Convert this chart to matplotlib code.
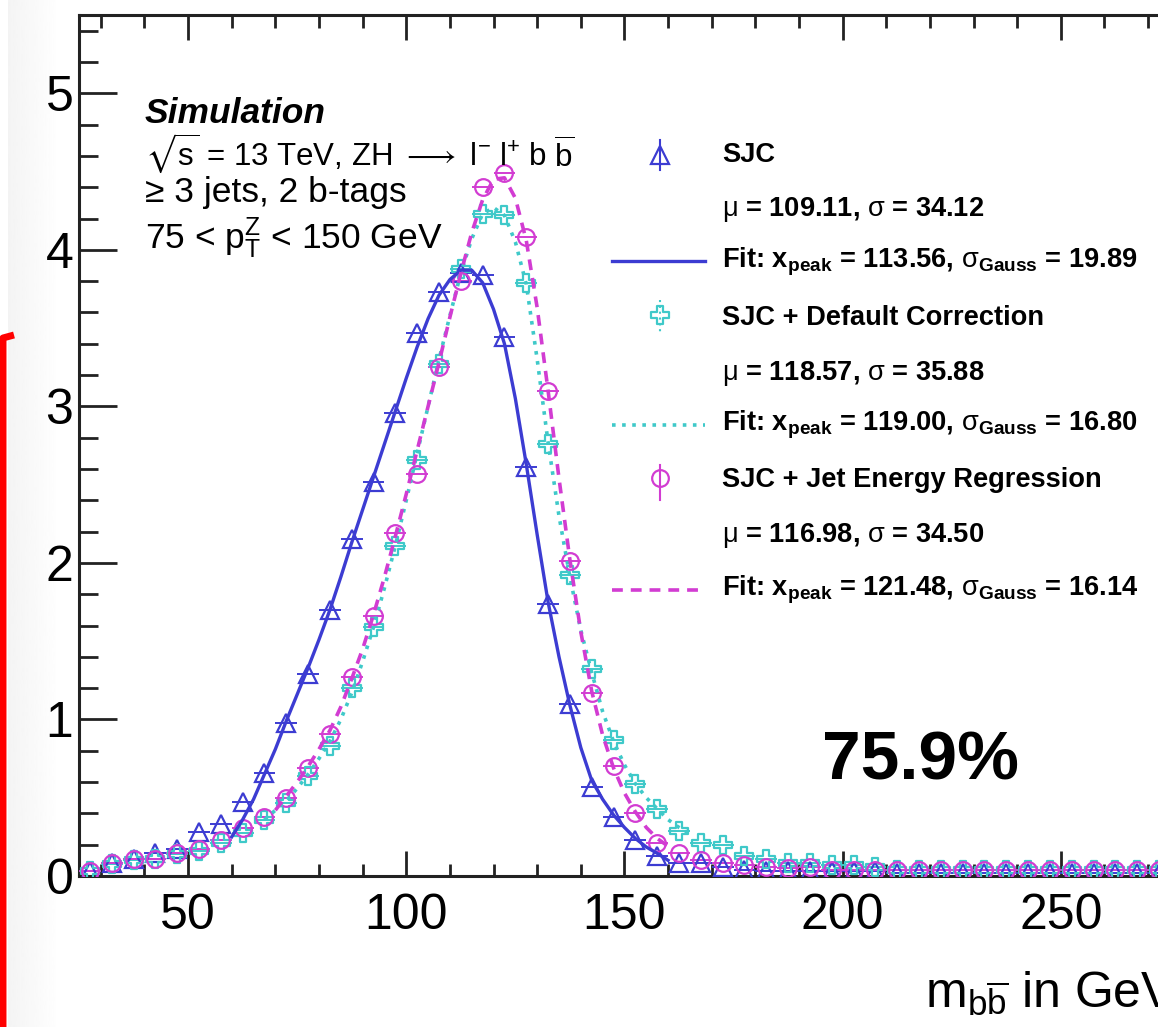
import matplotlib
matplotlib.use("Agg")
import matplotlib.pyplot as plt
from matplotlib.path import Path
from matplotlib.ticker import MultipleLocator, FixedLocator, FixedFormatter
import numpy as np

# ---------------- data ----------------
bin_centers = [27.5, 32.5, 37.5, 42.5, 47.5, 52.5, 57.5, 62.5, 67.5, 72.5,
               77.5, 82.5, 87.5, 92.5, 97.5, 102.5, 107.5, 112.5, 117.5, 122.5,
               127.5, 132.5, 137.5, 142.5, 147.5, 152.5, 157.5, 162.5, 167.5, 172.5,
               177.5, 182.5, 187.5, 192.5, 197.5, 202.5, 207.5, 212.5, 217.5, 222.5,
               227.5, 232.5, 237.5, 242.5, 247.5, 252.5, 257.5, 262.5, 267.5, 272.5,
               277.5, 282.5, 287.5, 292.5, 297.5]
bin_half_width = 2.5

sjc = [0.03, 0.085, 0.11, 0.145, 0.175, 0.28, 0.33, 0.47, 0.66, 0.98,
       1.29, 1.70, 2.15, 2.52, 2.96, 3.47, 3.73, 3.85, 3.84, 3.44,
       2.61, 1.74, 1.10, 0.57, 0.38, 0.23, 0.13, 0.08, 0.08, 0.06,
       0.04, 0.035, 0.03, 0.035, 0.03, 0.03, 0.03, 0.02, 0.02, 0.02,
       0.02, 0.02, 0.02, 0.02, 0.02, 0.02, 0.02, 0.02, 0.02, 0.02,
       0.02, 0.02, 0.02, 0.02, 0.02]
sjc_default = [0.03, 0.075, 0.10, 0.11, 0.14, 0.16, 0.21, 0.275, 0.36, 0.465,
               0.64, 0.83, 1.20, 1.59, 2.11, 2.66, 3.27, 3.88, 4.23, 4.22,
               3.79, 2.76, 1.92, 1.32, 0.87, 0.59, 0.43, 0.29, 0.21, 0.20,
               0.13, 0.11, 0.08, 0.08, 0.07, 0.07, 0.06, 0.04, 0.04, 0.04,
               0.04, 0.04, 0.04, 0.04, 0.04, 0.04, 0.04, 0.04, 0.04, 0.04,
               0.04, 0.04, 0.04, 0.04, 0.04]
sjc_regr = [0.03, 0.08, 0.11, 0.11, 0.145, 0.17, 0.23, 0.305, 0.38, 0.50,
            0.69, 0.91, 1.27, 1.66, 2.19, 2.57, 3.25, 3.80, 4.40, 4.49,
            4.08, 3.10, 2.01, 1.17, 0.70, 0.40, 0.21, 0.145, 0.10, 0.08,
            0.07, 0.06, 0.05, 0.06, 0.04, 0.04, 0.04, 0.04, 0.04, 0.04,
            0.04, 0.04, 0.04, 0.04, 0.04, 0.04, 0.04, 0.04, 0.04, 0.04,
            0.04, 0.04, 0.04, 0.04, 0.04]

fit_sjc_x = [60, 62.5, 65, 67.5, 70, 72.5, 75, 77.5, 80, 82.5, 85, 87.5, 90, 92.5,
             95, 97.5, 100, 102.5, 105, 107.5, 110, 112.5, 115, 117.5, 120, 122.5,
             125, 127.5, 130, 132.5, 135, 137.5, 140, 142.5, 145, 147.5, 150,
             152.5, 155, 157.5, 160]
fit_sjc_y = [0.25, 0.36, 0.49, 0.65, 0.81, 0.99, 1.16, 1.33, 1.51, 1.70, 1.91, 2.13,
             2.34, 2.55, 2.76, 2.97, 3.18, 3.38, 3.56, 3.71, 3.81, 3.87, 3.87, 3.79,
             3.62, 3.40, 3.05, 2.63, 2.18, 1.75, 1.40, 1.09, 0.82, 0.61, 0.49, 0.39,
             0.31, 0.24, 0.185, 0.145, 0.10]

fit_def_x = [67.5, 70, 72.5, 75, 77.5, 80, 82.5, 85, 87.5, 90, 92.5, 95, 97.5, 100,
             102.5, 105, 107.5, 110, 112.5, 115, 117.5, 120, 122.5, 125, 127.5,
             130, 132.5, 135, 137.5, 140, 142.5, 145, 147.5, 150, 152.5, 155,
             157.5, 160, 162.5, 165]
fit_def_y = [0.36, 0.42, 0.48, 0.56, 0.65, 0.75, 0.86, 1.00, 1.17, 1.37, 1.59, 1.84,
             2.11, 2.40, 2.70, 3.00, 3.30, 3.58, 3.85, 4.07, 4.23, 4.27, 4.22, 4.05,
             3.78, 3.30, 2.77, 2.30, 1.91, 1.57, 1.30, 1.05, 0.86, 0.71, 0.59, 0.50,
             0.43, 0.36, 0.31, 0.27]

fit_reg_x = [70, 72.5, 75, 77.5, 80, 82.5, 85, 87.5, 90, 92.5, 95, 97.5, 100, 102.5,
             105, 107.5, 110, 112.5, 115, 117.5, 120, 122.5, 125, 127.5, 130, 132.5,
             135, 137.5, 140, 142.5, 145, 147.5, 150, 152.5, 155, 157.5, 160]
fit_reg_y = [0.42, 0.51, 0.60, 0.70, 0.81, 0.93, 1.08, 1.26, 1.45, 1.67, 1.91, 2.17,
             2.44, 2.72, 3.00, 3.28, 3.57, 3.85, 4.11, 4.32, 4.45, 4.46, 4.33, 4.06,
             3.63, 3.10, 2.54, 2.02, 1.56, 1.18, 0.90, 0.69, 0.53, 0.41, 0.31, 0.24,
             0.19]

x_ticks = [50, 100, 150, 200, 250, 300]
x_tick_labels = ["50", "100", "150", "200", "250", ""]

legend_labels = ["SJC",
                 "$\\mathrm{\\mu}$ = 109.11, $\\mathrm{\\sigma}$ = 34.12",
                 "Fit: x$_{\\mathbf{peak}}$ = 113.56, $\\mathrm{\\sigma}_{\\mathbf{Gauss}}$ = 19.89",
                 "SJC + Default Correction",
                 "$\\mathrm{\\mu}$ = 118.57, $\\mathrm{\\sigma}$ = 35.88",
                 "Fit: x$_{\\mathbf{peak}}$ = 119.00, $\\mathrm{\\sigma}_{\\mathbf{Gauss}}$ = 16.80",
                 "SJC + Jet Energy Regression",
                 "$\\mathrm{\\mu}$ = 116.98, $\\mathrm{\\sigma}$ = 34.50",
                 "Fit: x$_{\\mathbf{peak}}$ = 121.48, $\\mathrm{\\sigma}_{\\mathbf{Gauss}}$ = 16.14"]

info_lines = ["Simulation",
              "$\\sqrt{\\mathrm{s}}$ = 13 TeV, ZH $\\longrightarrow$ l$^{-}$ l$^{+}$ b $\\overline{\\mathrm{b}}$",
              "\u2265 3 jets, 2 b-tags",
              "75 < p$_{\\mathrm{T}}^{\\mathrm{Z}}$ < 150 GeV"]

x_label = "m$_{\\mathrm{b}\\overline{\\mathrm{b}}}$ in GeV"

# ---------------- style ----------------
plt.rcParams['font.family'] = ['Liberation Sans', 'DejaVu Sans']
plt.rcParams['mathtext.fontset'] = 'custom'
plt.rcParams['mathtext.rm'] = 'Liberation Sans'
plt.rcParams['mathtext.it'] = 'Liberation Sans:italic'
plt.rcParams['mathtext.bf'] = 'Liberation Sans:bold'
plt.rcParams['mathtext.sf'] = 'Liberation Sans'
plt.rcParams['mathtext.fallback'] = 'stixsans'

BLUE = '#3c3cd2'
CYAN = '#3fc9c9'
MAGENTA = '#d23cd2'

W, H = 1158, 1027
fig = plt.figure(figsize=(W / 100, H / 100), dpi=100)
fig.patch.set_facecolor('white')

# faint screenshot shadow on the left
bg = fig.add_axes([0, 0, 1, 1], zorder=-5)
bg.set_xlim(0, W)
bg.set_ylim(H, 0)
bg.axis('off')
grad = np.linspace(0.955, 1.0, 64).reshape(1, -1)
bg.imshow(grad, extent=(8, 60, H, 0), cmap='gray', vmin=0, vmax=1, aspect='auto')

# axes: left spine px 79, bottom px 876, top px 15, right beyond crop
ax = fig.add_axes([79 / W, (H - 876) / H, 1200 / W, (876 - 15) / H])
ax.patch.set_alpha(0)
ax.set_xlim(25, 300)
ax.set_ylim(0, 5.5)

# open cross marker
a = 0.32
cross = Path([(-1, -a), (-a, -a), (-a, -1), (a, -1), (a, -a), (1, -a), (1, a),
              (a, a), (a, 1), (-a, 1), (-a, a), (-1, a), (-1, -a)], closed=True)

ms_kw = dict(linestyle='none', markerfacecolor='none', markeredgewidth=1.6,
             elinewidth=1.4, capsize=0)
ax.errorbar(bin_centers, sjc, xerr=bin_half_width, marker='^', ms=13,
            color=BLUE, mec=BLUE, zorder=3, **ms_kw)
ax.errorbar(bin_centers, sjc_default, xerr=bin_half_width, marker=cross, ms=13,
            color=CYAN, mec=CYAN, zorder=3, **ms_kw)
ax.errorbar(bin_centers, sjc_regr, xerr=bin_half_width, marker='o', ms=12,
            color=MAGENTA, mec=MAGENTA, zorder=3, **ms_kw)

ax.plot(fit_sjc_x, fit_sjc_y, color=BLUE, lw=2.4, ls='-', zorder=4)
ax.plot(fit_def_x, fit_def_y, color=CYAN, lw=2.6, ls=(0, (1, 1.8)), zorder=4)
ax.plot(fit_reg_x, fit_reg_y, color=MAGENTA, lw=2.6, ls=(0, (3, 2.2)), zorder=4)

# ticks (ROOT style, inward, on all sides)
ax.xaxis.set_major_locator(FixedLocator(x_ticks))
ax.xaxis.set_major_formatter(FixedFormatter(x_tick_labels))
ax.xaxis.set_minor_locator(MultipleLocator(10))
ax.yaxis.set_major_locator(MultipleLocator(1))
ax.yaxis.set_minor_locator(MultipleLocator(0.2))
ax.tick_params(axis='both', which='both', direction='in', top=True, right=True,
               width=2.0, colors='#222222', labelcolor='black')
ax.tick_params(axis='x', which='major', length=18, labelsize=36, pad=12)
ax.tick_params(axis='x', which='minor', length=9)
ax.tick_params(axis='y', which='major', length=27, labelsize=36, pad=4)
ax.tick_params(axis='y', which='minor', length=14)
for s in ax.spines.values():
    s.set_linewidth(2.2)
    s.set_color('#222222')

# overlay in pixel coordinates for texts and legend
ov = fig.add_axes([0, 0, 1, 1])
ov.set_xlim(0, W)
ov.set_ylim(H, 0)
ov.axis('off')
ov.patch.set_alpha(0)

# info text
ov.text(145, 123, info_lines[0], fontsize=25.5, fontweight='bold', style='italic',
        va='baseline', ha='left')
ov.text(145, 165, info_lines[1], fontsize=22.5, va='baseline', ha='left')
ov.text(145, 202, info_lines[2], fontsize=25.5, va='baseline', ha='left')
ov.text(145, 248, info_lines[3], fontsize=25.5, va='baseline', ha='left')

# legend
tx = 722
rows_y = [155, 210, 262, 318, 373, 425, 480, 535, 590]
for lab, yy in zip(legend_labels, rows_y):
    ov.text(tx, yy, lab, fontsize=19.6, fontweight='bold', va='center', ha='left')

mx = 660
ov.plot([mx, mx], [140, 170], color=BLUE, lw=1.5)
ov.plot([mx], [155], marker='^', ms=13, mfc='none', mec=BLUE, mew=1.6)
ov.plot([612, 705], [261, 261], color=BLUE, lw=2.4, ls='-')
ov.plot([mx, mx], [300, 335], color=CYAN, lw=1.5, ls=(0, (1, 1.8)))
ov.plot([mx], [315], marker=cross, ms=13, mfc='none', mec=CYAN, mew=1.6)
ov.plot([612, 705], [425, 425], color=CYAN, lw=2.6, ls=(0, (1, 1.8)))
ov.plot([mx, mx], [465, 500], color=MAGENTA, lw=1.5)
ov.plot([mx], [478], marker='o', ms=12, mfc='none', mec=MAGENTA, mew=1.6)
ov.plot([612, 705], [590, 590], color=MAGENTA, lw=2.6, ls=(0, (3, 2.2)))

# big percentage
ov.text(822, 780, "75.9%", fontsize=50, fontweight='bold', va='baseline', ha='left')

# x-axis label (right aligned at axis end, cropped as in the reference)
ov.text(925, 1008, x_label, fontsize=36, va='baseline', ha='left')

# red frame edge on the left
ov.plot([3, 3, 14], [H + 5, 338, 335], color='#ff0000', lw=5, solid_capstyle='butt',
        solid_joinstyle='round')

fig.savefig("out.png", dpi=100, facecolor='white')
